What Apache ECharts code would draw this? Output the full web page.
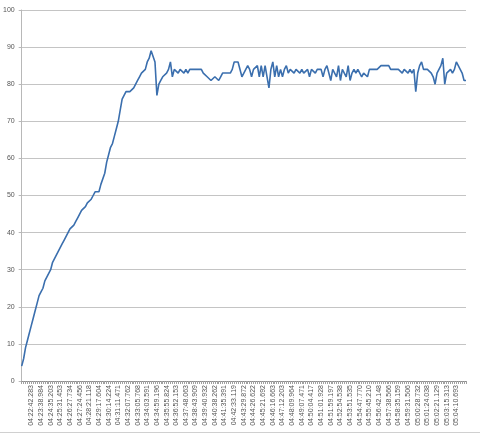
<!DOCTYPE html>
<html>
<head>
<meta charset="utf-8">
<script src="https://cdn.jsdelivr.net/npm/echarts@6/dist/echarts.min.js"></script>
<style>html,body{margin:0;padding:0;background:#fff;}#c{width:480px;height:434px;}</style>
</head>
<body>
<div id="c"></div>
<script>
// Tick labels shown every 5th sample (starting at sample 5)
var tickLabels = [
  "04:22:42.283","04:23:38.984","04:24:35.203","04:25:31.453","04:26:27.734","04:27:24.456",
  "04:28:21.118","04:29:17.604","04:30:14.224","04:31:11.471","04:32:07.762","04:33:05.768",
  "04:34:03.591","04:34:59.196","04:35:55.824","04:36:52.153","04:37:48.063","04:38:43.909",
  "04:39:40.932","04:40:38.262","04:41:35.391","04:42:33.119","04:43:29.872","04:44:26.622",
  "04:45:21.692","04:46:16.663","04:47:12.203","04:48:09.964","04:49:07.471","04:50:04.417",
  "04:51:01.928","04:51:59.197","04:52:54.538","04:53:51.535","04:54:47.770","04:55:45.210",
  "04:56:42.148","04:57:38.566","04:58:35.159","04:59:31.506","05:00:28.732","05:01:24.038",
  "05:02:21.129","05:03:15.313","05:04:10.693"
];
var labelEvery = 5;

// Series values, one per sample
var values = [
  4,6,9,11,13,15,17,19,21,23,
  24,25,27,28,29,30,32,33,34,35,
  36,37,38,38,40,41,41,42,43,44,
  45,46,46,47,48,48,49,50,51,51,
  51,53,53,56,59,61,63,64,66,68,
  70,73,76,77,78,78,78,78,79,80,
  81,82,83,83,84,86,87,89,89,86,
  77,80,81,82,82,83,84,86,82,84,
  84,83,84,84,83,84,83,84,84,84,
  84,84,84,84,83,83,82,82,81,81,
  82,82,81,82,83,83,83,83,83,84,
  86,86,86,86,82,83,84,85,84,82,
  84,84,85,82,85,82,85,82,79,84,
  86,82,85,82,84,82,84,85,83,84,
  84,83,84,84,83,84,83,83,84,82,
  84,84,83,84,84,84,82,84,85,83,
  81,84,84,82,85,81,84,83,82,85,
  81,83,84,83,84,84,82,83,83,82,
  84,84,84,84,84,84,85,85,85,85,
  85,84,84,84,84,84,84,83,84,84,
  83,84,83,84,78,83,85,86,84,84,
  84,84,83,82,80,83,84,85,87,80,
  83,83,84,83,84,86,85,84,83,81,
  81
];
var yTicks = {min: 0, max: 100, interval: 10};

var categories = values.map(function (v, i) { return String(i); });

var chart = echarts.init(document.getElementById('c'), null, {renderer: 'canvas'});
chart.setOption({
  animation: false,
  backgroundColor: '#ffffff',
  textStyle: {fontFamily: 'Liberation Sans, Arial, sans-serif'},
  grid: {left: 21, right: 14, top: 10, bottom: 53, containLabel: false},
  xAxis: {
    type: 'category',
    data: categories,
    boundaryGap: false,
    axisLine: {show: true, lineStyle: {color: '#8c8c8c', width: 1}},
    axisTick: {show: true, interval: 0, length: 3, lineStyle: {color: '#a0a0a0'}},
    splitLine: {show: false},
    axisLabel: {
      interval: function (i) { return i > 0 && i % labelEvery === 0; },
      formatter: function (v, i) {
        var k = i / labelEvery - 1;
        return tickLabels[k] || '';
      },
      rotate: 90,
      fontSize: 7,
      color: '#555',
      margin: 4
    }
  },
  yAxis: {
    type: 'value',
    min: yTicks.min, max: yTicks.max, interval: yTicks.interval,
    axisLine: {show: true, lineStyle: {color: '#b8b8b8'}},
    axisTick: {show: true, length: 3, lineStyle: {color: '#b8b8b8'}},
    splitLine: {show: true, lineStyle: {color: '#c4c4c4', width: 1}},
    axisLabel: {fontSize: 7, color: '#555', margin: 7}
  },
  series: [{
    type: 'line',
    data: values,
    showSymbol: false,
    symbol: 'none',
    lineStyle: {color: '#3b6fae', width: 1.6},
    itemStyle: {color: '#3b6fae'}
  }],
  graphic: [{
    type: 'line',
    shape: {x1: 0, y1: 432.5, x2: 480, y2: 432.5},
    style: {stroke: '#d0d0d0', lineWidth: 1},
    silent: true
  }]
});
</script>
</body>
</html>
